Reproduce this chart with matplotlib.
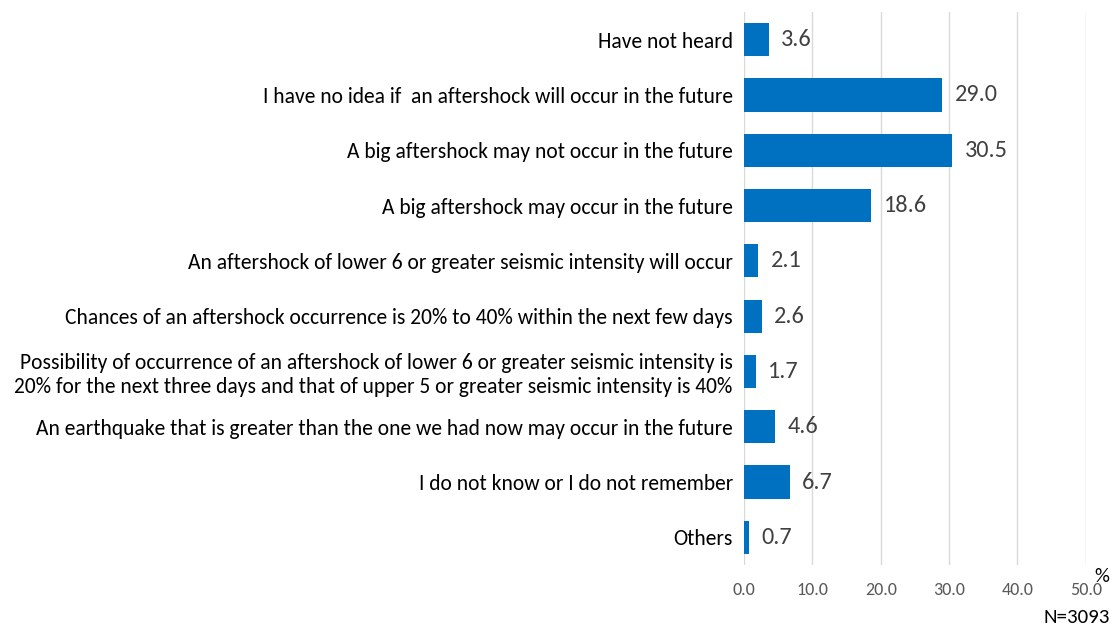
import matplotlib.pyplot as plt
from matplotlib import font_manager

categories = [
    "Have not heard",
    "I have no idea if  an aftershock will occur in the future",
    "A big aftershock may not occur in the future",
    "A big aftershock may occur in the future",
    "An aftershock of lower 6 or greater seismic intensity will occur",
    "Chances of an aftershock occurrence is 20% to 40% within the next few days",
    "Possibility of occurrence of an aftershock of lower 6 or greater seismic intensity is\n"
    "20% for the next three days and that of upper 5 or greater seismic intensity is 40%",
    "An earthquake that is greater than the one we had now may occur in the future",
    "I do not know or I do not remember",
    "Others",
]
values = [3.6, 29.0, 30.5, 18.6, 2.1, 2.6, 1.7, 4.6, 6.7, 0.7]
xticks = [0, 10, 20, 30, 40, 50]

# Calibri-like font if there is one
names = {f.name for f in font_manager.fontManager.ttflist}
fam = "DejaVu Sans"
for cand in ["Carlito", "Liberation Sans Narrow", "Roboto Condensed", "Open Sans Condensed"]:
    if cand in names:
        fam = cand
        break
plt.rcParams['font.family'] = [fam, 'DejaVu Sans']

fig = plt.figure(figsize=(11.17, 6.32), dpi=100)
ax = fig.add_axes([0.666, 0.106, 0.306, 0.875])

pos = range(len(categories))
ax.barh(pos, values, height=0.6, color='#0070c0', zorder=3)
for p, v in zip(pos, values):
    ax.annotate(f"{v:.1f}", (v, p), xytext=(9, 0), textcoords='offset points',
                va='center', ha='left', fontsize=17.5, color='#404040')

ax.set_ylim(9.5, -0.5)
ax.set_xlim(0, 50)
ax.set_xticks(xticks)
ax.set_xticklabels([f"{t:.1f}" for t in xticks], fontsize=13, color='#595959')
ax.set_yticks(list(pos))
ax.set_yticklabels(categories, fontsize=15.5, color='black', linespacing=1.25)
ax.tick_params(axis='y', length=0, pad=8)
ax.tick_params(axis='x', length=0, pad=12)
ax.grid(axis='x', color='#d9d9d9', linewidth=1, zorder=0)
for s in ax.spines.values():
    s.set_visible(False)

fig.text(0.993, 0.075, "%", ha='right', va='bottom', fontsize=15)
fig.text(0.994, 0.01, "N=3093", ha='right', va='bottom', fontsize=15)

fig.savefig("out.png", dpi=100)
